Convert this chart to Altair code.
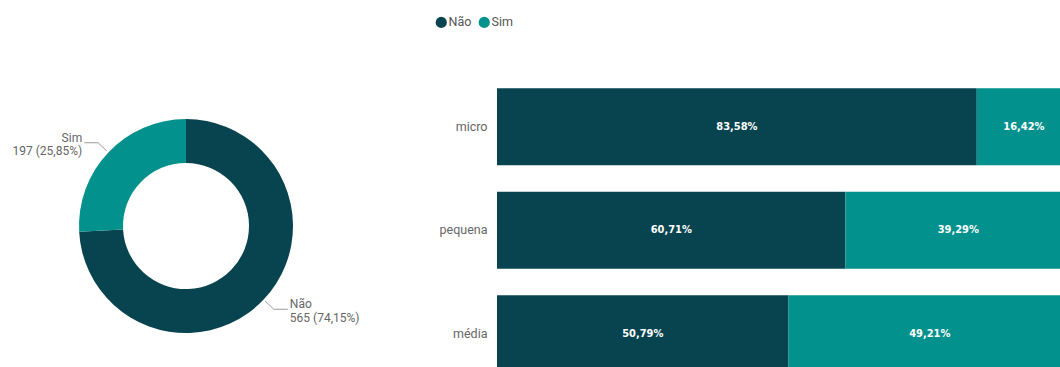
import math

import altair as alt
import pandas as pd

# ---- data ---------------------------------------------------------------
resposta = ["Não", "Sim"]
contagem = [565, 197]

porte = ["micro", "pequena", "média"]
pct_nao = [83.58, 60.71, 50.79]
pct_sim = [16.42, 39.29, 49.21]

DARK = "#08444F"
TEAL = "#02918C"
GREY = "#666666"
FONT = "Roboto"
BAR_FONT = "DejaVu Sans Condensed"

# ---- donut geometry -----------------------------------------------------
CX, CY = 186, 226
R_OUT, R_IN = 107, 63

total = sum(contagem)
donut = pd.DataFrame({"resposta": resposta, "contagem": contagem, "ordem": range(len(resposta))})
donut["pct"] = donut["contagem"] / total


def fmt_pct(v):
    return f"{v:.2f}".replace(".", ",") + "%"


# leader lines and labels placed at the middle angle of each slice
line_rows, label_rows = [], []
acc = 0.0
for r, c, p in zip(donut["resposta"], donut["contagem"], donut["pct"]):
    mid = 2 * math.pi * (acc + p / 2)
    acc += p
    s, co = math.sin(mid), math.cos(mid)
    side = 1 if s >= 0 else -1
    p1 = (CX + s * (R_OUT + 2), CY - co * (R_OUT + 2))
    p2 = (CX + s * (R_OUT + 14), CY - co * (R_OUT + 14))
    p3 = (p2[0] + side * 14, p2[1])
    for i, (x, y) in enumerate([p1, p2, p3]):
        line_rows.append({"resposta": r, "i": i, "x": x, "y": y})
    label_rows.append({
        "resposta": r,
        "x": p3[0] + side * 2,
        "y": p3[1],
        "side": side,
        "txt": [r, f"{c} ({fmt_pct(p * 100)})"],
    })

lines = pd.DataFrame(line_rows)
labels = pd.DataFrame(label_rows)

color_scale = alt.Scale(domain=resposta, range=[DARK, TEAL])

arc = alt.Chart(donut).mark_arc(outerRadius=R_OUT, innerRadius=R_IN).encode(
    theta=alt.Theta("contagem:Q", stack=True),
    color=alt.Color("resposta:N", scale=color_scale,
                    legend=alt.Legend(orient="none", legendX=435, legendY=16, direction="horizontal",
                                      title=None, symbolType="circle", symbolSize=125,
                                      symbolStrokeWidth=0, labelFont=FONT, labelFontSize=12.5,
                                      labelColor="#555555", labelOffset=1, columnPadding=6,
                                      padding=0)),
    order=alt.Order("ordem:Q"),
    x=alt.value(CX),
    y=alt.value(CY),
)

leader = alt.Chart(lines).mark_line(color="#9a9a9a", strokeWidth=1).encode(
    x=alt.X("x:Q", scale=None),
    y=alt.Y("y:Q", scale=None),
    detail="resposta:N",
    order="i:Q",
)

label_style = dict(baseline="middle", font=FONT, fontSize=12, color=GREY, lineHeight=13.5, dy=-5)

lab_left = alt.Chart(labels).transform_filter("datum.side < 0").mark_text(
    align="right", **label_style
).encode(x=alt.X("x:Q", scale=None), y=alt.Y("y:Q", scale=None), text="txt")

lab_right = alt.Chart(labels).transform_filter("datum.side > 0").mark_text(
    align="left", **label_style
).encode(x=alt.X("x:Q", scale=None), y=alt.Y("y:Q", scale=None), text="txt")

donut_chart = alt.layer(arc, leader, lab_left, lab_right).properties(width=420, height=367)

# ---- stacked 100% bars --------------------------------------------------
rows = []
for pt, n, s in zip(porte, pct_nao, pct_sim):
    rows.append({"porte": pt, "resposta": "Não", "ordem": 0, "v": n, "lbl": fmt_pct(n)})
    rows.append({"porte": pt, "resposta": "Sim", "ordem": 1, "v": s, "lbl": fmt_pct(s)})
bars_df = pd.DataFrame(rows)

y_enc = alt.Y("porte:N", sort=porte,
              scale=alt.Scale(range=[75, 385.5], paddingInner=0.256, paddingOuter=0.128),
              axis=alt.Axis(title=None, domain=False, ticks=False, grid=False, labelPadding=10,
                            labelFont=FONT, labelFontSize=12.5, labelColor=GREY,
                            minExtent=77, maxExtent=77))
x_scale = alt.Scale(domain=[0, 98.08], nice=False, zero=True)

bars = alt.Chart(bars_df).mark_bar(clip=True).encode(
    x=alt.X("v:Q", stack="zero", scale=x_scale, axis=None),
    y=y_enc,
    color=alt.Color("resposta:N", scale=color_scale, legend=None),
    order=alt.Order("ordem:Q"),
)

bar_text = alt.Chart(bars_df).transform_stack(
    stack="v", groupby=["porte"], as_=["v0", "v1"], sort=[alt.SortField("ordem")]
).transform_calculate(mid="(datum.v0 + datum.v1) / 2").mark_text(
    color="white", font=BAR_FONT, fontWeight="bold", fontSize=11, baseline="middle"
).encode(
    x=alt.X("mid:Q", scale=x_scale, axis=None),
    y=y_enc,
    text="lbl:N",
)

bar_chart = alt.layer(bars, bar_text).properties(width=563, height=367)

chart = alt.hconcat(donut_chart, bar_chart, spacing=0).properties(
    padding=0, background="white"
).configure_view(stroke=None)

chart.save("out.html", embed_options={"renderer": "svg", "actions": False})
